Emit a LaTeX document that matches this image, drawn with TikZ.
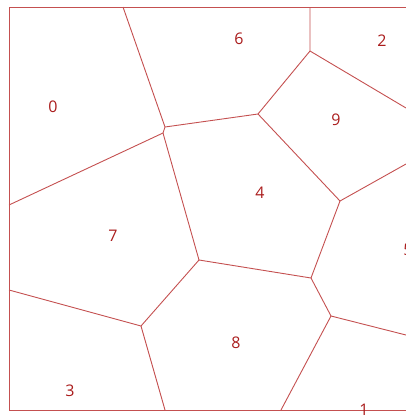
\documentclass[tikz,border=0pt]{standalone}
\usepackage{fontspec}
\setmainfont{Open Sans}
\definecolor{edgec}{RGB}{196,80,80}
\definecolor{labc}{RGB}{170,28,28}
\tikzset{
  edge/.style={draw=edgec, line width=0.9pt},
  lab/.style={text=labc, font=\fontsize{16}{19}\selectfont, inner sep=0pt}
}
\begin{document}
\begin{tikzpicture}[x=1pt,y=-1pt]
\useasboundingbox (0,0) rectangle (406,416);
\clip (0,0) rectangle (406,416);
% frame
\coordinate (TL) at (9,7);
\coordinate (TR) at (420,7);
\coordinate (BL) at (9,410);
\coordinate (BR) at (420,410);
\draw[edge] (TR) -- (TL) -- (BL) -- (BR);
% vertices
\coordinate (A) at (165,127);
\coordinate (B) at (163,133);
\coordinate (C) at (258,114);
\coordinate (D) at (199,260);
\coordinate (E) at (310,51);
\coordinate (F) at (340,201);
\coordinate (G) at (311,278);
\coordinate (H) at (331,316);
\coordinate (I) at (141,326);
% boundary endpoints
\coordinate (t1) at (123,7);
\coordinate (t2) at (310,7);
\coordinate (l1) at (9,205);
\coordinate (l2) at (9,290);
\coordinate (r1) at (406,108);
\coordinate (r2) at (406,164);
\coordinate (r3) at (406,335);
\coordinate (b1) at (165,410);
\coordinate (b2) at (281,410);
% edges
\draw[edge] (t1) -- (A) -- (B);
\draw[edge] (A) -- (C);
\draw[edge] (B) -- (l1);
\draw[edge] (B) -- (D);
\draw[edge] (C) -- (E) -- (t2);
\draw[edge] (E) -- (r1);
\draw[edge] (C) -- (F) -- (r2);
\draw[edge] (F) -- (G) -- (D);
\draw[edge] (G) -- (H) -- (r3);
\draw[edge] (H) -- (b2);
\draw[edge] (D) -- (I) -- (l2);
\draw[edge] (I) -- (b1);
% labels
\node[lab] (n0) at (53,107) {0};
\node[lab] (n6) at (239,39) {6};
\node[lab] (n2) at (382,41) {2};
\node[lab] (n9) at (336,120) {9};
\node[lab] (n4) at (260,193) {4};
\node[lab] (n7) at (113,236) {7};
\node[lab] (n5) at (408,250) {5};
\node[lab] (n8) at (236,343) {8};
\node[lab] (n3) at (70,391) {3};
\node[lab] (n1) at (364,410) {1};
\end{tikzpicture}
\end{document}
